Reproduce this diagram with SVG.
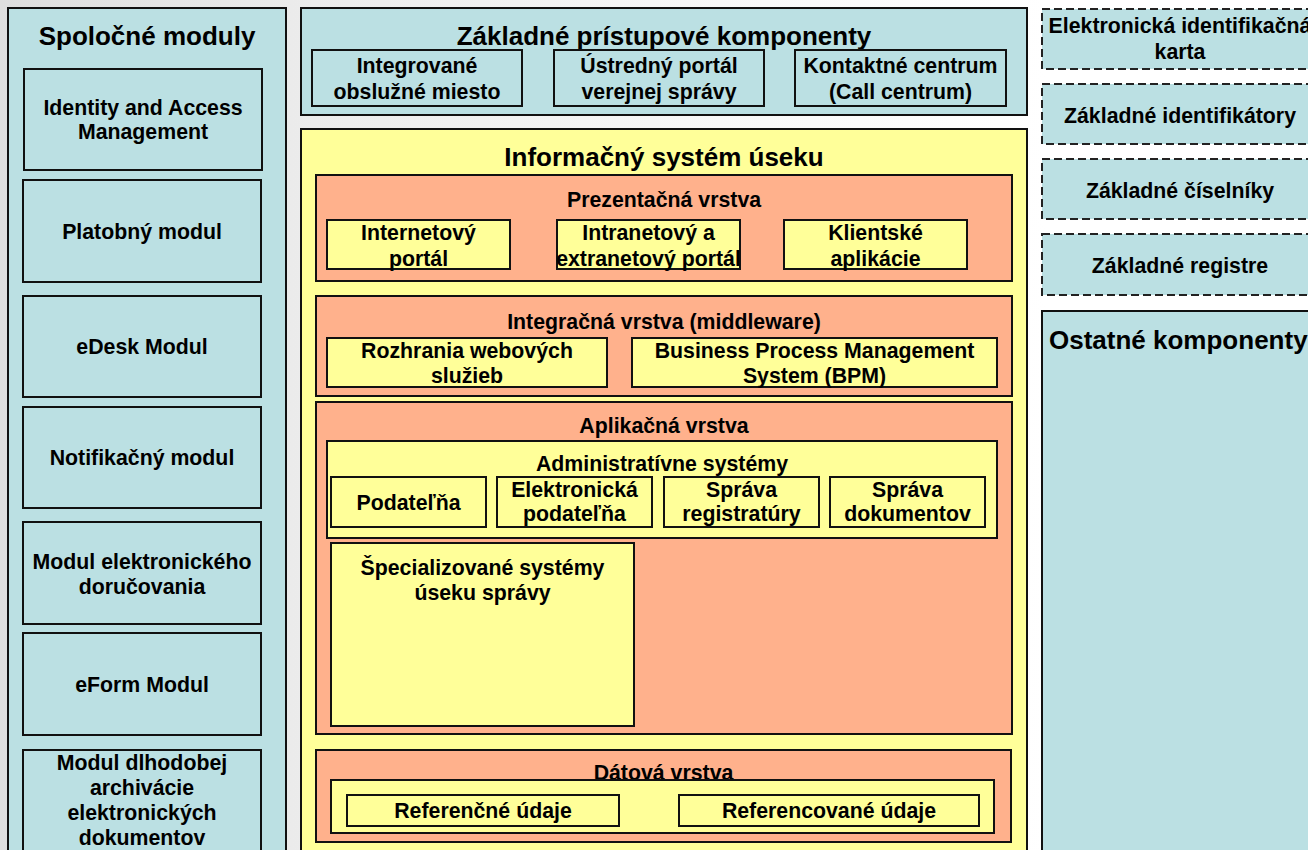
<svg xmlns="http://www.w3.org/2000/svg" width="1308" height="850" viewBox="0 0 1308 850">
<defs>
<linearGradient id="bg" x1="0" y1="0" x2="1" y2="0">
<stop offset="0" stop-color="#dedede"/>
<stop offset="0.24" stop-color="#ececec"/>
<stop offset="0.55" stop-color="#f8f8f8"/>
<stop offset="0.8" stop-color="#ffffff"/>
</linearGradient>
<style>
text{font-family:"Liberation Sans",Arial,sans-serif;font-weight:bold;fill:#000;text-anchor:middle}
.t{font-size:26px}
.s{font-size:21.3px}
.blue{fill:#bbe0e3;stroke:#111;stroke-width:2}
.yel{fill:#ffff99;stroke:#111;stroke-width:2}
.sal{fill:#ffb18c;stroke:#111;stroke-width:2}
.dash{fill:#bbe0e3;stroke:#222;stroke-width:2;stroke-dasharray:8 4}
</style>
</defs>
<rect x="0" y="0" width="1308" height="850" fill="url(#bg)"/>

<g id="spolocne-moduly">
<rect class="blue" x="8" y="8" width="278" height="860"/>
<text class="t" x="147" y="45">Spoločné moduly</text>
</g>
<g id="iam">
<rect class="blue" x="24" y="69" width="238" height="101"/>
<text class="s" x="143" y="115">Identity and Access</text>
<text class="s" x="143" y="139">Management</text>
</g>
<g id="platobny-modul">
<rect class="blue" x="23" y="180" width="238" height="102"/>
<text class="s" x="142" y="239">Platobný modul</text>
</g>
<g id="edesk-modul">
<rect class="blue" x="23" y="296" width="238" height="101"/>
<text class="s" x="142" y="354">eDesk Modul</text>
</g>
<g id="notifikacny-modul">
<rect class="blue" x="23" y="407" width="238" height="101"/>
<text class="s" x="142" y="465">Notifikačný modul</text>
</g>
<g id="modul-dorucovania">
<rect class="blue" x="23" y="522" width="238" height="102"/>
<text class="s" x="142" y="569">Modul elektronického</text>
<text class="s" x="142" y="594">doručovania</text>
</g>
<g id="eform-modul">
<rect class="blue" x="23" y="633" width="238" height="102"/>
<text class="s" x="142" y="692">eForm Modul</text>
</g>
<g id="modul-archivacie">
<rect class="blue" x="23" y="750" width="238" height="120"/>
<text class="s" x="142" y="770">Modul dlhodobej</text>
<text class="s" x="142" y="795">archivácie</text>
<text class="s" x="142" y="820">elektronických</text>
<text class="s" x="142" y="845">dokumentov</text>
</g>

<g id="zakladne-pristupove-komponenty">
<rect class="blue" x="301" y="8" width="726" height="107"/>
<text class="t" x="664" y="45">Základné prístupové komponenty</text>
</g>
<g id="integrovane-miesto">
<rect class="blue" x="312" y="50" width="210" height="56"/>
<text class="s" x="417" y="73">Integrované</text>
<text class="s" x="417" y="99">obslužné miesto</text>
</g>
<g id="ustredny-portal">
<rect class="blue" x="554" y="50" width="210" height="56"/>
<text class="s" x="659" y="73">Ústredný portál</text>
<text class="s" x="659" y="99">verejnej správy</text>
</g>
<g id="kontaktne-centrum">
<rect class="blue" x="795" y="50" width="211" height="56"/>
<text class="s" x="900.5" y="73">Kontaktné centrum</text>
<text class="s" x="900.5" y="99">(Call centrum)</text>
</g>

<g id="informacny-system">
<rect class="yel" x="301" y="129" width="726" height="740"/>
<text class="t" x="664" y="166">Informačný systém úseku</text>
</g>

<g id="prezentacna-vrstva">
<rect class="sal" x="316" y="175" width="696" height="106"/>
<text class="s" x="664" y="207">Prezentačná vrstva</text>
</g>
<g id="internetovy-portal">
<rect class="yel" x="327" y="220" width="183" height="49"/>
<text class="s" x="418.5" y="240">Internetový</text>
<text class="s" x="418.5" y="265.5">portál</text>
</g>
<g id="intranetovy-portal">
<rect class="yel" x="557" y="220" width="183" height="49"/>
<text class="s" x="648.5" y="240">Intranetový a</text>
<text class="s" x="648.5" y="265.5">extranetový portál</text>
</g>
<g id="klientske-aplikacie">
<rect class="yel" x="784" y="220" width="183" height="49"/>
<text class="s" x="875.5" y="240">Klientské</text>
<text class="s" x="875.5" y="265.5">aplikácie</text>
</g>

<g id="integracna-vrstva">
<rect class="sal" x="316" y="296" width="696" height="100"/>
<text class="s" x="664" y="328.5">Integračná vrstva (middleware)</text>
</g>
<g id="rozhrania-sluzieb">
<rect class="yel" x="327" y="338" width="280" height="49"/>
<text class="s" x="467" y="358">Rozhrania webových</text>
<text class="s" x="467" y="382.5">služieb</text>
</g>
<g id="bpm">
<rect class="yel" x="632" y="338" width="365" height="49"/>
<text class="s" x="814.5" y="358">Business Process Management</text>
<text class="s" x="814.5" y="382.5">System (BPM)</text>
</g>

<g id="aplikacna-vrstva">
<rect class="sal" x="316" y="402" width="696" height="332"/>
<text class="s" x="664" y="432.5">Aplikačná vrstva</text>
</g>
<g id="administrativne-systemy">
<rect class="yel" x="327" y="441" width="670" height="97"/>
<text class="s" x="662" y="471">Administratívne systémy</text>
</g>
<g id="podatelna">
<rect class="yel" x="331" y="477" width="155" height="50"/>
<text class="s" x="408.5" y="510">Podateľňa</text>
</g>
<g id="elektronicka-podatelna">
<rect class="yel" x="497" y="477" width="155" height="50"/>
<text class="s" x="574.5" y="497">Elektronická</text>
<text class="s" x="574.5" y="521">podateľňa</text>
</g>
<g id="sprava-registratury">
<rect class="yel" x="664" y="477" width="155" height="50"/>
<text class="s" x="741.5" y="497">Správa</text>
<text class="s" x="741.5" y="521">registratúry</text>
</g>
<g id="sprava-dokumentov">
<rect class="yel" x="830" y="477" width="155" height="50"/>
<text class="s" x="907.5" y="497">Správa</text>
<text class="s" x="907.5" y="521">dokumentov</text>
</g>
<g id="specializovane-systemy">
<rect class="yel" x="331" y="543" width="303" height="183"/>
<text class="s" x="482.5" y="575">Špecializované systémy</text>
<text class="s" x="482.5" y="600">úseku správy</text>
</g>

<g id="datova-vrstva">
<rect class="sal" x="316" y="750" width="695" height="92"/>
<text class="s" x="663.5" y="780">Dátová vrstva</text>
<rect class="yel" x="331" y="780" width="663" height="53"/>
</g>
<g id="referencne-udaje">
<rect class="yel" x="347" y="795" width="272" height="31"/>
<text class="s" x="483" y="818">Referenčné údaje</text>
</g>
<g id="referencovane-udaje">
<rect class="yel" x="679" y="795" width="300" height="31"/>
<text class="s" x="829" y="818">Referencované údaje</text>
</g>

<g id="elektronicka-karta">
<rect class="dash" x="1042" y="9" width="276" height="60"/>
<text class="s" x="1180" y="33">Elektronická identifikačná</text>
<text class="s" x="1180" y="59">karta</text>
</g>
<g id="zakladne-identifikatory">
<rect class="dash" x="1042" y="84" width="276" height="60"/>
<text class="s" x="1180" y="122.5">Základné identifikátory</text>
</g>
<g id="zakladne-ciselniky">
<rect class="dash" x="1042" y="159" width="276" height="60"/>
<text class="s" x="1180" y="197.5">Základné číselníky</text>
</g>
<g id="zakladne-registre">
<rect class="dash" x="1042" y="234" width="276" height="61"/>
<text class="s" x="1180" y="273">Základné registre</text>
</g>
<g id="ostatne-komponenty">
<rect class="blue" x="1042" y="311" width="280" height="560"/>
<text class="t" x="1049" y="349" style="text-anchor:start">Ostatné komponenty</text>
</g>

<g id="connectors"/>
</svg>
